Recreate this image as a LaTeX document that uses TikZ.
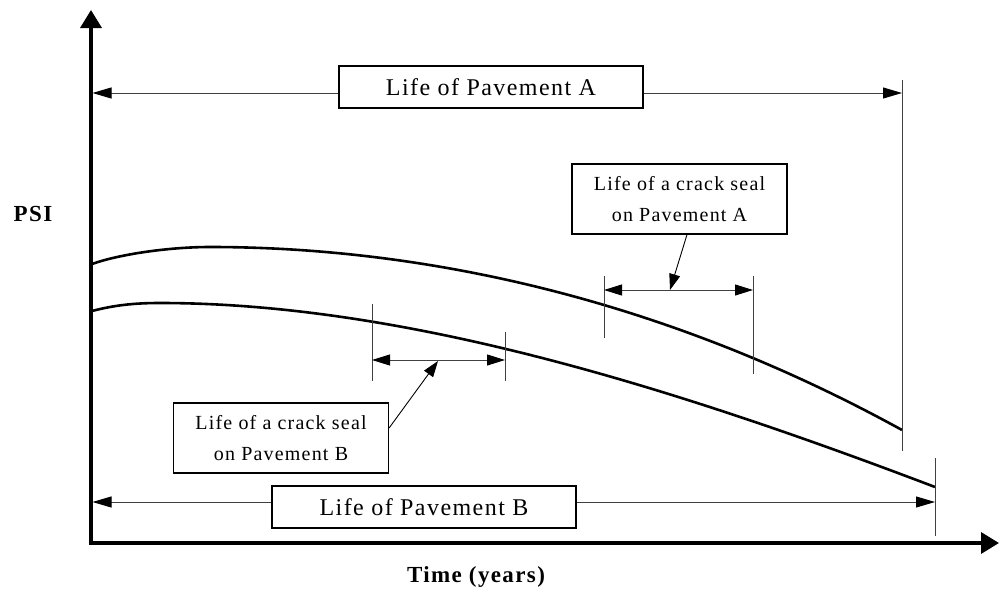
\documentclass[tikz,border=0pt]{standalone}
\usepackage{fontspec}
\setmainfont{Liberation Serif}
\newfontfamily\lspA[LetterSpace=6]{Liberation Serif}
\newfontfamily\lspB[LetterSpace=6]{Liberation Serif}
\newfontfamily\lspC[LetterSpace=6]{Liberation Serif}
\usetikzlibrary{arrows.meta}
\begin{document}
\begin{tikzpicture}[x=1pt,y=-1pt,
  axis/.style={line width=3.6pt,-{Triangle[length=18pt,width=21pt]}},
  curve/.style={line width=2.6pt},
  thin/.style={line width=1pt,draw=black!75},
  dim/.style={thin,-{Triangle[length=19pt,width=11pt,black,fill=black]}},
  ddim/.style={thin,{Triangle[length=18pt,width=11pt,black,fill=black]}-{Triangle[length=18pt,width=11pt,black,fill=black]}},
  ptr/.style={line width=0.9pt,-{Triangle[length=16pt,width=11pt]}},
  bigbox/.style={draw,line width=1.2pt,minimum width=304pt,minimum height=42pt,inner sep=0pt,font=\fontsize{24}{26}\lspA},
  smallbox/.style={draw,line width=1.2pt,minimum width=215pt,minimum height=70pt,inner sep=0pt,align=center,font=\fontsize{20}{31}\lspB},
  lbl/.style={font=\fontsize{23}{26}\bfseries\lspC}]
\useasboundingbox (0,0) rectangle (999,589);
% axes
\coordinate (O) at (91,543);
\coordinate (ytop) at (91,10);
\coordinate (xend) at (999,543);
\draw[axis] (91,545) -- (ytop);
\draw[axis] (89.2,543) -- (xend);
\node[lbl] (psi) at (33,214) {PSI};
\node[lbl] (time) at (476,577) {Time (years)};
% curves
\coordinate (Astart) at (92,264);
\coordinate (Atop) at (210,247);
\coordinate (Aend) at (902,430);
\coordinate (Bstart) at (92,311);
\coordinate (Btop) at (160,303);
\coordinate (Bend) at (935,487);
\draw[curve] (Astart) .. controls (120,254) and (170,247) .. (Atop)
  .. controls (410,247) and (652,292.5) .. (Aend);
\draw[curve] (Bstart) .. controls (115,305) and (135,303) .. (Btop)
  .. controls (410,303) and (685,392) .. (Bend);
% end markers
\coordinate (AmarkT) at (902,80);
\coordinate (AmarkB) at (902,451);
\coordinate (BmarkT) at (935,458);
\coordinate (BmarkB) at (935,536);
\draw[thin] (AmarkT) -- (AmarkB);
\draw[thin] (BmarkT) -- (BmarkB);
% Life of pavement A
\node[bigbox] (boxA) at (491,87) {Life of Pavement A};
\coordinate (aL) at (92.5,93);
\coordinate (aR) at (902,93);
\draw[dim] (boxA.west |- aL) -- (aL);
\draw[dim] (boxA.east |- aR) -- (aR);
% Life of pavement B
\node[bigbox] (boxB) at (424,507) {Life of Pavement B};
\coordinate (bL) at (92.5,502);
\coordinate (bR) at (935,502);
\draw[dim] (boxB.west |- bL) -- (bL);
\draw[dim] (boxB.east |- bR) -- (bR);
% crack seal A
\coordinate (c1T) at (604,276);
\coordinate (c1B) at (604,338);
\coordinate (c2T) at (753,276);
\coordinate (c2B) at (753,374);
\draw[thin] (c1T) -- (c1B);
\draw[thin] (c2T) -- (c2B);
\coordinate (caL) at (604,290);
\coordinate (caR) at (753,290);
\draw[ddim] (caL) -- (caR);
\node[smallbox] (csA) at (679.5,199) {Life of a crack seal\\on Pavement A};
\coordinate (pA) at (670,290);
\draw[ptr] (csA.south -| 687,0) -- (pA);
% crack seal B
\coordinate (d1T) at (372,304);
\coordinate (d1B) at (372,381);
\coordinate (d2T) at (505,332);
\coordinate (d2B) at (505,381);
\draw[thin] (d1T) -- (d1B);
\draw[thin] (d2T) -- (d2B);
\coordinate (cbL) at (372,360);
\coordinate (cbR) at (505,360);
\draw[ddim] (cbL) -- (cbR);
\node[smallbox] (csB) at (281,438) {Life of a crack seal\\on Pavement B};
\coordinate (pB) at (438,361);
\draw[ptr] (csB.east |- 0,428) -- (pB);
\end{tikzpicture}
\end{document}
